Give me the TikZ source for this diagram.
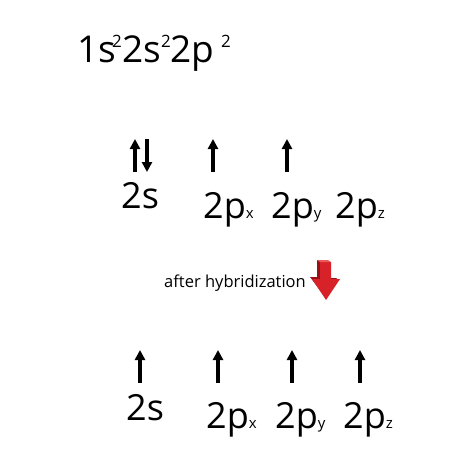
\documentclass[tikz,border=0pt]{standalone}
\usepackage{fontspec}
\setmainfont{Open Sans}
\usetikzlibrary{arrows.meta}
\definecolor{arrowred}{RGB}{214,34,40}
\definecolor{arrowdark}{RGB}{150,18,24}
\definecolor{arrowlight}{RGB}{235,90,90}
\begin{document}
\begin{tikzpicture}[x=1pt,y=-1pt,
  big/.style={anchor=base west,inner sep=0pt,font=\fontsize{36}{36}\selectfont},
  conf/.style={anchor=base west,inner sep=0pt,font=\fontsize{37}{37}\selectfont},
  sup/.style={anchor=base west,inner sep=0pt,font=\fontsize{17}{17}\selectfont},
  small/.style={anchor=base west,inner sep=0pt,font=\fontsize{16.5}{16.5}\selectfont},
  spin/.style={line width=3.2pt,-{Triangle[width=10pt,length=10pt]}}]
\useasboundingbox (0,0) rectangle (474,474);
\fill[white] (0,0) rectangle (474,474);
% electron configuration
\node[conf] (c1) at (77,62) {1s};
\node[sup]  (s1) at (112,47) {2};
\node[conf] (c2) at (122,62) {2s};
\node[sup]  (s2) at (161,47) {2};
\node[conf] (c3) at (170,62) {2p};
\node[sup]  (s3) at (221,47) {2};
\newcommand{\subx}[1]{{\fontsize{15}{15}\selectfont #1}}
% row 1 spins
\coordinate (u1b) at (135,172); \coordinate (u1t) at (135,139);
\coordinate (d1t) at (147,139); \coordinate (d1b) at (147,172);
\coordinate (u2b) at (213,172); \coordinate (u2t) at (213,139);
\coordinate (u3b) at (287,172); \coordinate (u3t) at (287,139);
\draw[spin] (u1b) -- (u1t);
\draw[spin] (d1t) -- (d1b);
\draw[spin] (u2b) -- (u2t);
\draw[spin] (u3b) -- (u3t);
% row 1 labels
\node[big] (l1s) at (121,208) {2s};
\node[big] (l1x) at (203,218) {2p\subx{x}};
\node[big] (l1y) at (271,218) {2p\subx{y}};
\node[big] (l1z) at (335,218) {2p\subx{z}};
% after hybridization
\node[small] (ah) at (164,287) {after hybridization};
\fill[arrowdark] (317,260) -- (328,260) -- (328,278) -- (337,278) -- (325,297) -- (310,277) -- (317,277) -- cycle;
\fill[arrowred] (320,262) -- (331,262) -- (331,279) -- (340,279) -- (326,300) -- (312,279) -- (320,279) -- cycle;
\fill[arrowlight] (317,260) -- (328,260) -- (331,262) -- (320,262) -- cycle;
% row 2 spins
\coordinate (v1b) at (140,383); \coordinate (v1t) at (140,350);
\coordinate (v2b) at (218,383); \coordinate (v2t) at (218,350);
\coordinate (v3b) at (292,383); \coordinate (v3t) at (292,350);
\coordinate (v4b) at (360,383); \coordinate (v4t) at (360,350);
\draw[spin] (v1b) -- (v1t);
\draw[spin] (v2b) -- (v2t);
\draw[spin] (v3b) -- (v3t);
\draw[spin] (v4b) -- (v4t);
% row 2 labels
\node[big] (l2s) at (126,420) {2s};
\node[big] (l2x) at (206,428) {2p\subx{x}};
\node[big] (l2y) at (275,428) {2p\subx{y}};
\node[big] (l2z) at (343,428) {2p\subx{z}};
\end{tikzpicture}
\end{document}
